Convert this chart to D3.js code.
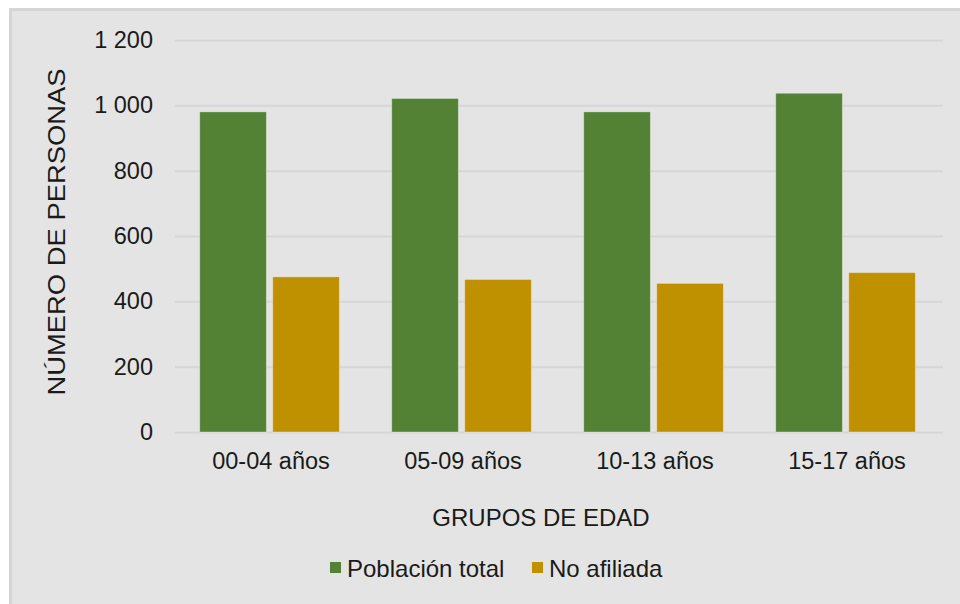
<!DOCTYPE html>
<html><head><meta charset="utf-8">
<script src="https://cdn.jsdelivr.net/npm/d3@7"></script>
<style>html,body{margin:0;padding:0;background:#fff;}svg{display:block;font-family:Arial,"Liberation Sans",sans-serif;}</style>
</head><body>
<svg id="c" width="960" height="604"></svg>
<script>
const categories = ["00-04 años","05-09 años","10-13 años","15-17 años"];
const seriesNames = ["Población total","No afiliada"];
const poblacionTotal = [980, 1021, 980, 1037];
const noAfiliada = [475, 467, 455, 488];
const yTicks = [0,200,400,600,800,1000,1200];
const colors = ["#548235","#bf9000"];

const svg = d3.select("#c");
svg.append("rect").attr("x",10.5).attr("y",9.5).attr("width",960).attr("height",604)
  .attr("fill","#e4e4e4").attr("stroke","#d5d5d5").attr("stroke-width",3);

const m = {left:175, right:943, top:40, bottom:432};
const x0 = d3.scaleBand().domain(categories).range([m.left,m.right]).padding(0);
const x1 = d3.scaleBand().domain(seriesNames).range([24.7, 164.4]).paddingInner(0.086).paddingOuter(0);
const y = d3.scaleLinear().domain([0,1200]).range([m.bottom,m.top]);
const loc = d3.formatLocale({decimal:",",thousands:"\u00a0",grouping:[3],currency:["",""]});
const fmt = loc.format(",d");

// gridlines
const yAxis = d3.axisLeft(y).tickValues(yTicks).tickSize(-(m.right-m.left)).tickFormat(fmt).tickPadding(22);
const gy = svg.append("g").attr("transform",`translate(${m.left},0)`).call(yAxis);
gy.select(".domain").remove();
gy.selectAll(".tick line").attr("stroke","#d6d6d6").attr("stroke-width",2);
gy.selectAll(".tick text").attr("fill","#1a1a1a").attr("font-size",23.5).attr("font-family","Arial, 'Liberation Sans', sans-serif");

// bars
const data = categories.map((c,i)=>({cat:c, vals:[poblacionTotal[i], noAfiliada[i]]}));
const g = svg.append("g");
data.forEach(d=>{
  d.vals.forEach((v,j)=>{
    g.append("rect")
      .attr("x", x0(d.cat)+x1(seriesNames[j]))
      .attr("y", y(v))
      .attr("width", x1.bandwidth())
      .attr("height", y(0)-y(v))
      .attr("fill", colors[j])
      .attr("stroke","rgba(255,255,255,0.35)").attr("stroke-width",1);
  });
});

// x axis labels
const xAxis = d3.axisBottom(x0).tickSize(0).tickPadding(20);
const gx = svg.append("g").attr("transform",`translate(0,${m.bottom})`).call(xAxis);
gx.select(".domain").remove();
gx.selectAll(".tick text").attr("fill","#1a1a1a").attr("font-size",23.5).attr("font-family","Arial, 'Liberation Sans', sans-serif");

// axis titles
svg.append("text").attr("x",541).attr("y",526).attr("text-anchor","middle")
  .attr("font-size",24).attr("fill","#1a1a1a").text("GRUPOS DE EDAD");
svg.append("text").attr("transform","translate(65,232) rotate(-90)").attr("text-anchor","middle")
  .attr("font-size",24).attr("fill","#1a1a1a")
  .attr("textLength",327).attr("lengthAdjust","spacingAndGlyphs").text("NÚMERO DE PERSONAS");

// legend
const legX = [330, 532];
seriesNames.forEach((s,i)=>{
  svg.append("rect").attr("x",legX[i]).attr("y",562).attr("width",11).attr("height",11).attr("fill",colors[i]);
  svg.append("text").attr("x",legX[i]+17).attr("y",577).attr("font-size",24).attr("fill","#1a1a1a").text(s);
});
</script>
</body></html>
